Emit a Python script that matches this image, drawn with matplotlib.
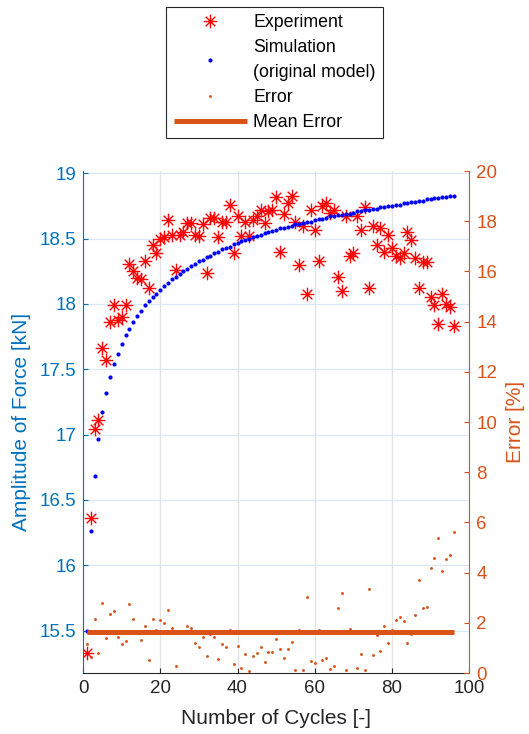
import numpy as np
import matplotlib
matplotlib.use("Agg")
import matplotlib.pyplot as plt
from matplotlib.path import Path
from matplotlib.ticker import FuncFormatter

plt.rcParams["font.family"] = ["Liberation Sans", "DejaVu Sans"]

C_LEFT = "#0072BD"    # force axis
C_RIGHT = "#D95319"   # error axis
C_AX = "#262626"

# cycle number for every sample
cycles = np.arange(1, 97)

# measured force amplitude [kN]
experiment = [
    15.33, 16.36, 17.04, 17.11, 17.66, 17.57, 17.86, 17.99, 17.88, 17.90,
    17.99, 18.31, 18.25, 18.20, 18.19, 18.33, 18.12, 18.45, 18.39, 18.50,
    18.51, 18.64, 18.53, 18.26, 18.53, 18.55, 18.62, 18.62, 18.53, 18.52,
    18.61, 18.24, 18.66, 18.66, 18.51, 18.63, 18.63, 18.76, 18.39, 18.67,
    18.52, 18.63, 18.52, 18.64, 18.67, 18.72, 18.62, 18.71, 18.72, 18.82,
    18.40, 18.69, 18.77, 18.83, 18.63, 18.30, 18.60, 18.08, 18.72, 18.57,
    18.33, 18.75, 18.77, 18.70, 18.72, 18.21, 18.10, 18.67, 18.37, 18.39,
    18.67, 18.57, 18.74, 18.12, 18.60, 18.45, 18.58, 18.40, 18.53, 18.43,
    18.37, 18.35, 18.39, 18.55, 18.49, 18.35, 18.12, 18.32, 18.32, 18.05,
    17.99, 17.85, 18.08, 18.00, 17.98, 17.83,
]

# original model prediction [kN]
simulation = [
    15.50, 16.26, 16.68, 16.97, 17.17, 17.32, 17.44, 17.54, 17.62, 17.69,
    17.76, 17.81, 17.86, 17.91, 17.95, 17.99, 18.02, 18.05, 18.08, 18.11,
    18.14, 18.16, 18.19, 18.21, 18.23, 18.25, 18.27, 18.29, 18.31, 18.33,
    18.34, 18.36, 18.37, 18.39, 18.40, 18.42, 18.43, 18.44, 18.46, 18.47,
    18.48, 18.49, 18.50, 18.51, 18.52, 18.53, 18.54, 18.55, 18.56, 18.57,
    18.58, 18.58, 18.59, 18.60, 18.61, 18.61, 18.62, 18.63, 18.63, 18.64,
    18.65, 18.65, 18.66, 18.67, 18.67, 18.68, 18.68, 18.69, 18.69, 18.70,
    18.71, 18.71, 18.72, 18.72, 18.73, 18.73, 18.74, 18.74, 18.75, 18.75,
    18.76, 18.76, 18.77, 18.77, 18.78, 18.78, 18.79, 18.79, 18.80, 18.80,
    18.81, 18.81, 18.82, 18.82, 18.83, 18.83,
]

# relative deviation [%]
error = [
    1.15, 0.63, 2.16, 0.81, 2.77, 1.40, 2.34, 2.48, 1.44, 1.17,
    1.28, 2.73, 2.16, 1.60, 1.31, 1.88, 0.53, 2.17, 1.72, 2.12,
    1.98, 2.53, 1.81, 0.27, 1.65, 1.62, 1.89, 1.78, 1.20, 1.05,
    1.44, 0.67, 1.54, 1.45, 0.57, 1.15, 1.05, 1.72, 0.36, 1.09,
    0.19, 0.76, 0.09, 0.68, 0.81, 1.03, 0.44, 0.85, 0.85, 1.34,
    0.97, 0.60, 0.97, 1.24, 0.13, 1.72, 0.11, 3.02, 0.47, 0.40,
    1.72, 0.51, 0.59, 0.15, 0.29, 2.57, 3.19, 0.12, 1.74, 1.68,
    0.21, 0.75, 0.12, 3.34, 0.71, 1.50, 0.88, 1.86, 1.20, 1.72,
    2.12, 2.22, 2.08, 1.20, 1.57, 2.33, 3.71, 2.57, 2.62, 4.18,
    4.58, 5.36, 4.08, 4.54, 4.70, 5.60,
]
mean_error = 1.62

# eight-armed asterisk marker
d = 0.707
star = Path([(-1, 0), (1, 0), (0, -1), (0, 1), (-d, -d), (d, d), (-d, d), (d, -d)],
            [Path.MOVETO, Path.LINETO] * 4)

fig = plt.figure(figsize=(5.29, 7.34), dpi=100)
ax = fig.add_axes([0.157, 0.0831, 0.730, 0.6839])
ax2 = ax.twinx()

h_exp, = ax.plot(cycles, experiment, ls="none", marker=star, ms=9.8, mew=1.0,
                 mec="red", mfc="none", label="Experiment", zorder=3)
h_sim, = ax.plot(cycles, simulation, ls="none", marker="o", ms=3.0, mew=0,
                 color="blue", label="Simulation\n(original model)", zorder=4)
h_err, = ax2.plot(cycles, error, ls="none", marker="o", ms=2.1, mew=0,
                  color=C_RIGHT, label="Error")
h_mean, = ax2.plot([cycles[0], cycles[-1]], [mean_error, mean_error], color=C_RIGHT,
                   lw=3.6, solid_capstyle="butt", label="Mean Error")

ax.set_xlim(0, 100)
ax.set_ylim(15.175, 19.018)
ax2.set_ylim(0, 20)
ax.set_xticks(np.arange(0, 101, 20))
ax.set_yticks(np.arange(15.5, 19.01, 0.5))
ax2.set_yticks(np.arange(0, 21, 2))
ax.yaxis.set_major_formatter(FuncFormatter(lambda v, p: f"{v:g}"))

ax.xaxis.grid(True, color="#e2e2e2", lw=0.9)
ax.yaxis.grid(True, color="#d9e8f3", lw=0.9)
ax.set_axisbelow(True)

for a in (ax, ax2):
    a.spines["top"].set_visible(False)
ax.spines["left"].set_color(C_LEFT)
ax.spines["bottom"].set_color(C_AX)
ax.spines["right"].set_visible(False)
ax2.spines["left"].set_visible(False)
ax2.spines["bottom"].set_visible(False)
ax2.spines["right"].set_color(C_RIGHT)

ax.tick_params(axis="x", direction="in", length=3.5, colors=C_AX, labelsize=13.5, pad=5)
ax.tick_params(axis="y", direction="in", length=3.5, colors=C_LEFT, labelsize=13.5, pad=5)
ax2.tick_params(axis="y", direction="in", length=3.5, colors=C_RIGHT, labelsize=13.5, pad=5)

ax.set_xlabel("Number of Cycles [-]", color=C_AX, fontsize=15, labelpad=8.5)
ax.set_ylabel("Amplitude of Force [kN]", color=C_LEFT, fontsize=15, labelpad=6)
ax2.set_ylabel("Error [%]", color=C_RIGHT, fontsize=15, labelpad=6)

leg = fig.legend([h_exp, h_sim, h_err, h_mean],
                 ["Experiment", "Simulation\n(original model)", "Error", "Mean Error"],
                 loc="upper center", bbox_to_anchor=(274.7 / 529, 1 - 6.7 / 734),
                 borderaxespad=0, fontsize=12.8, handlelength=4.15, handletextpad=0.34,
                 labelspacing=0.46, borderpad=0.42, fancybox=False,
                 edgecolor=C_AX, framealpha=1)
leg.get_frame().set_linewidth(0.8)
for t in leg.get_texts():
    t.set_linespacing(1.56)

fig.savefig("out.png", dpi=100)
